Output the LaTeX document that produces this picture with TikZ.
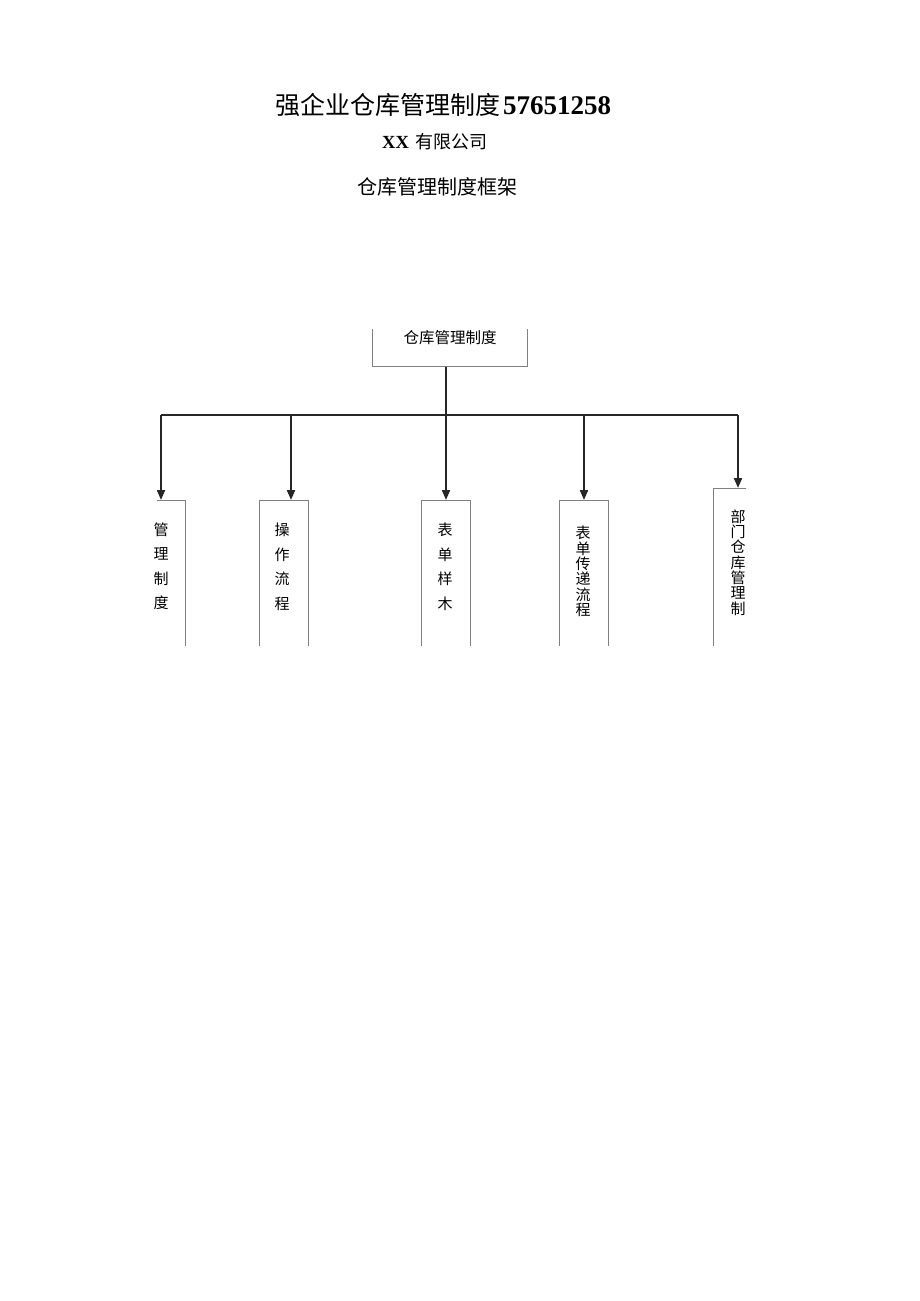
\documentclass[tikz,border=0pt]{standalone}
\usepackage{fontspec}
\setmainfont{Liberation Serif}
\newfontfamily\cjk{Noto Sans CJK SC}
\usetikzlibrary{arrows.meta, positioning}

\begin{document}
\begin{tikzpicture}[x=1pt, y=-1pt,
        frame/.style={draw=black!50, line width=0.9pt, minimum width=49pt, minimum height=180pt, anchor=north, inner sep=0pt},
        boss/.style={draw=black!50, line width=0.9pt, minimum width=155pt, minimum height=60pt, anchor=south, inner sep=0pt},
        wide/.style={align=center, inner sep=0pt, font=\cjk\fontsize{15}{24.5}\selectfont},
        tight/.style={align=center, inner sep=0pt, font=\cjk\fontsize{15}{15.3}\selectfont},
        link/.style={draw=black!85, line width=2pt},
        arrow/.style={link, -{Triangle[length=10pt, width=8pt]}}]
        \useasboundingbox (0,0) rectangle (920,1301);

        \node (title) at (443,105) {{\cjk\fontsize{25}{30}\selectfont 强企业仓库管理制度}\hspace{3pt}{\fontsize{27}{30}\selectfont\bfseries 57651258}};
        \node (company) at (435,142) {{\fontsize{18.5}{22}\selectfont\bfseries XX}\hspace{7pt}{\cjk\fontsize{18}{22}\selectfont 有限公司}};
        \node (heading) at (437,187) {\cjk\fontsize{20}{24}\selectfont 仓库管理制度框架};

        \begin{scope}
            \clip (157,329) rectangle (746,645);
            \node[boss] (top) at (449.5,367) {};
            \node[frame] (a) at (161,500) {};
            \node[frame] (b) at (283.5,500) {};
            \node[frame] (c) at (445.5,500) {};
            \node[frame] (d) at (584,500) {};
            \node[frame] (e) at (738,488) {};
            \coordinate (bus) at (446,415);
            \coordinate (bt) at ([xshift=7.5pt]b.north);
            \coordinate (ct) at ([xshift=0.5pt]c.north);

            \draw[link] (top.south -| bus) -- (bus);
            \draw[link] (a.north |- bus) -- (e.north |- bus);
            \draw[arrow] (a.north |- bus) -- (a.north);
            \draw[arrow] (bt |- bus) -- (bt);
            \draw[arrow] (ct |- bus) -- (ct);
            \draw[arrow] (d.north |- bus) -- (d.north);
            \draw[arrow] (e.north |- bus) -- (e.north);
        \end{scope}

        \node[font=\cjk\fontsize{15.5}{18}\selectfont, inner sep=0pt] (toptext) at (450,337.5) {仓库管理制度};
        \node[wide] (atext) at (161,566.5) {管\\理\\制\\度};
        \node[wide] (btext) at (282,567) {操\\作\\流\\程};
        \node[wide] (ctext) at (445,567) {表\\单\\样\\木};
        \node[tight] (dtext) at (583,571.5) {表\\单\\传\\递\\流\\程};
        \node[tight] (etext) at (738,562.5) {部\\门\\仓\\库\\管\\理\\制};
\end{tikzpicture}
\end{document}
